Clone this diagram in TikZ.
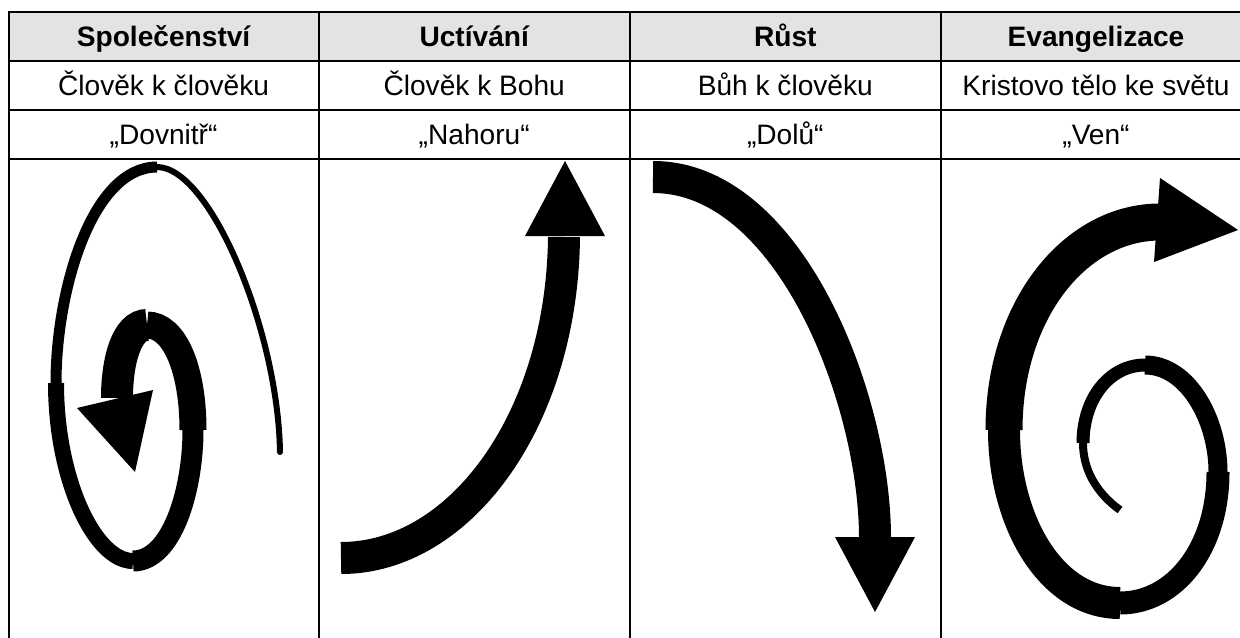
\documentclass[tikz,border=0pt]{standalone}
\usepackage{fontspec}
\setmainfont{Liberation Sans}
\definecolor{headgray}{HTML}{E3E3E3}
\tikzset{
  rule/.style={line width=2*0.02cm},
  band/.style={line width=#1*0.02cm},
  cell/.style={font=\fontsize{16}{19}\selectfont, inner sep=0pt, anchor=base},
  head/.style={font=\fontsize{16}{19}\selectfont\bfseries, inner sep=0pt, anchor=base},
}

\begin{document}
\begin{tikzpicture}[x=0.02cm, y=-0.02cm]
\useasboundingbox (0,0) rectangle (1240,637);
\clip (0,0) rectangle (1240,637);

\fill[headgray] (8.5,12) rectangle (1260,61);
\draw[rule] (1260,12) -- (8.5,12) -- (8.5,660);
\draw[rule] (8.5,61) -- (1260,61);
\draw[rule] (8.5,109.5) -- (1260,109.5);
\draw[rule] (8.5,158.5) -- (1260,158.5);
\foreach \x in {318.7,629.7,941} \draw[rule] (\x,12) -- (\x,660);

\node[head] (h1) at (163.6,46.5) {Společenství};
\node[head] (h2) at (474.2,46.5) {Uctívání};
\node[head] (h3) at (785.3,46.5) {Růst};
\node[head] (h4) at (1096,46.5) {Evangelizace};

\node[cell] (w1) at (163.6,95) {Člověk k člověku};
\node[cell] (w2) at (474.2,95) {Člověk k Bohu};
\node[cell] (w3) at (785.3,95) {Bůh k člověku};
\node[cell] (w4) at (1096,95) {Kristovo tělo ke světu};

\node[cell] (d1) at (163.6,144) {„Dovnitř“};
\node[cell] (d2) at (474.2,144) {„Nahoru“};
\node[cell] (d3) at (785.3,144) {„Dolů“};
\node[cell] (d4) at (1096,144) {„Ven“};

% inward spiral
\draw[band=6, line cap=round] (280,452) .. controls (278,330) and (210,167) .. (157,167);
\draw[band=11] (157,167) .. controls (92,167) and (56,290) .. (56,383);
\draw[band=16] (56,383) .. controls (56,480) and (95,561) .. (133,561);
\draw[band=21] (133,561) .. controls (172,561) and (193,490) .. (193,430);
\draw[band=27] (193,430) .. controls (193,370) and (175,325) .. (147,325);
\draw[band=32] (147,325) .. controls (127,325) and (117,360) .. (117,398);
\fill (77,408) -- (153,390) -- (135,472) -- cycle;

% up
\draw[band=32] (341,558) .. controls (460,558) and (562,420) .. (564,237);
\fill (525,236) -- (605,236) -- (565,161) -- cycle;

% down
\draw[band=32] (653,177) .. controls (790,177) and (875,400) .. (875,538);
\fill (835,537) -- (915,537) -- (875,612) -- cycle;

% outward spiral
\draw[band=8] (1120,510) .. controls (1095,492) and (1083,468) .. (1083,443);
\draw[band=13] (1083,443) .. controls (1083,398) and (1110,365) .. (1145,365);
\draw[band=19] (1145,365) .. controls (1188,365) and (1218,420) .. (1218,472);
\draw[band=23] (1218,472) .. controls (1218,548) and (1175,603) .. (1120,603);
\draw[band=32] (1120,603) .. controls (1050,603) and (1004,520) .. (1004,430);
\draw[band=37] (1004,430) .. controls (1004,310) and (1075,222) .. (1160,222);
\fill (1160,178) -- (1238,230) -- (1154,262) -- cycle;
\end{tikzpicture}
\end{document}
